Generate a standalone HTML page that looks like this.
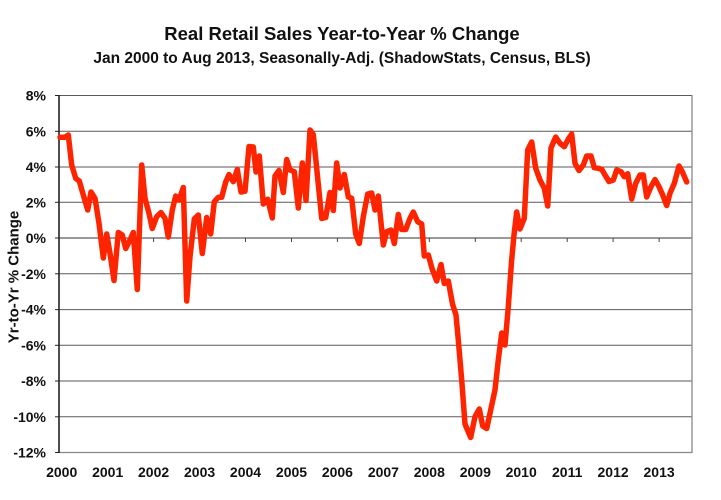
<!DOCTYPE html>
<html>
<head>
<meta charset="utf-8">
<style>
  html, body { margin: 0; padding: 0; background: #fff; }
  svg { display: block; }
  text { font-family: "Liberation Sans", Arial, sans-serif; font-weight: bold; fill: #111; }
</style>
</head>
<body>
<svg width="721" height="500" viewBox="0 0 721 500" xmlns="http://www.w3.org/2000/svg">
  <rect x="0" y="0" width="721" height="500" fill="#fff"/>

  <!-- Titles -->
  <text x="342" y="40" font-size="18.5" text-anchor="middle">Real Retail Sales Year-to-Year % Change</text>
  <text x="342" y="63" font-size="15.5" text-anchor="middle">Jan 2000 to Aug 2013, Seasonally-Adj. (ShadowStats, Census, BLS)</text>

  <!-- Gridlines -->
  <g stroke="#5a5a5a" stroke-width="1">
    <line x1="59" y1="95.5" x2="692" y2="95.5"/>
    <line x1="59" y1="131.3" x2="692" y2="131.3"/>
    <line x1="59" y1="167" x2="692" y2="167"/>
    <line x1="59" y1="202.3" x2="692" y2="202.3"/>
    <line x1="59" y1="238" x2="692" y2="238" stroke="#333"/>
    <line x1="59" y1="273.8" x2="692" y2="273.8"/>
    <line x1="59" y1="309.6" x2="692" y2="309.6"/>
    <line x1="59" y1="345.3" x2="692" y2="345.3"/>
    <line x1="59" y1="381" x2="692" y2="381"/>
    <line x1="59" y1="416.8" x2="692" y2="416.8"/>
  </g>
  <!-- plot border -->
  <line x1="59" y1="452.5" x2="692" y2="452.5" stroke="#888" stroke-width="1.3"/>
  <line x1="692" y1="95" x2="692" y2="453" stroke="#888" stroke-width="1.3"/>
  <line x1="59" y1="95" x2="59" y2="453" stroke="#222" stroke-width="1.6"/>

  <!-- y ticks -->
  <g stroke="#222" stroke-width="1">
    <line x1="55" y1="95.5" x2="59" y2="95.5"/>
    <line x1="55" y1="131.3" x2="59" y2="131.3"/>
    <line x1="55" y1="167" x2="59" y2="167"/>
    <line x1="55" y1="202.3" x2="59" y2="202.3"/>
    <line x1="55" y1="238" x2="59" y2="238"/>
    <line x1="55" y1="273.8" x2="59" y2="273.8"/>
    <line x1="55" y1="309.6" x2="59" y2="309.6"/>
    <line x1="55" y1="345.3" x2="59" y2="345.3"/>
    <line x1="55" y1="381" x2="59" y2="381"/>
    <line x1="55" y1="416.8" x2="59" y2="416.8"/>
    <line x1="55" y1="452.5" x2="59" y2="452.5"/>
  </g>
  <!-- x ticks on zero line -->
  <g stroke="#444" stroke-width="1">
    <line x1="107.7" y1="238" x2="107.7" y2="242"/>
    <line x1="153.6" y1="238" x2="153.6" y2="242"/>
    <line x1="199.6" y1="238" x2="199.6" y2="242"/>
    <line x1="245.5" y1="238" x2="245.5" y2="242"/>
    <line x1="291.5" y1="238" x2="291.5" y2="242"/>
    <line x1="337.4" y1="238" x2="337.4" y2="242"/>
    <line x1="383.4" y1="238" x2="383.4" y2="242"/>
    <line x1="429.3" y1="238" x2="429.3" y2="242"/>
    <line x1="475.3" y1="238" x2="475.3" y2="242"/>
    <line x1="521.2" y1="238" x2="521.2" y2="242"/>
    <line x1="567.2" y1="238" x2="567.2" y2="242"/>
    <line x1="613.1" y1="238" x2="613.1" y2="242"/>
    <line x1="659.1" y1="238" x2="659.1" y2="242"/>
  </g>

  <!-- y tick labels -->
  <g font-size="14" text-anchor="end">
    <text x="46" y="100.5">8%</text>
    <text x="46" y="136.3">6%</text>
    <text x="46" y="172">4%</text>
    <text x="46" y="207.3">2%</text>
    <text x="46" y="243">0%</text>
    <text x="46" y="278.8">-2%</text>
    <text x="46" y="314.6">-4%</text>
    <text x="46" y="350.3">-6%</text>
    <text x="46" y="386">-8%</text>
    <text x="46" y="421.8">-10%</text>
    <text x="46" y="457.5">-12%</text>
  </g>

  <!-- x labels -->
  <g font-size="14" text-anchor="middle">
    <text x="61.7" y="477">2000</text>
    <text x="107.7" y="477">2001</text>
    <text x="153.6" y="477">2002</text>
    <text x="199.6" y="477">2003</text>
    <text x="245.5" y="477">2004</text>
    <text x="291.5" y="477">2005</text>
    <text x="337.4" y="477">2006</text>
    <text x="383.4" y="477">2007</text>
    <text x="429.3" y="477">2008</text>
    <text x="475.3" y="477">2009</text>
    <text x="521.2" y="477">2010</text>
    <text x="567.2" y="477">2011</text>
    <text x="613.1" y="477">2012</text>
    <text x="659.1" y="477">2013</text>
  </g>

  <!-- y axis title -->
  <text transform="translate(18.5,277) rotate(-90)" font-size="15" text-anchor="middle">Yr-to-Yr % Change</text>

  <!-- series -->
  <polyline fill="none" stroke="#FF2400" stroke-width="5.5" stroke-linejoin="round" stroke-linecap="round"
    points="60,137.3 65,137.3 68.3,135 71.7,165 75.7,178.3 79.3,181 83.3,195 87.7,210 91,192 95,198.3 99,223.3 103.3,258 106.7,234 110,253.3 114,280.5 118.3,232.5 122.3,235 125.7,248.5 130,240 133.3,232.5 137.3,289.5 141.7,165 145,198.3 149,213.3 152.3,228.5 156.7,216.7 161,212.5 165,218.3 168.3,237 172.3,210 175.7,196 179,200 183.3,187.5 186.7,301 190,256.7 194.3,219 198.3,215 202.3,253.5 206.7,217.5 210.7,234 214.3,201.7 218.3,197.3 221.7,197.3 225.7,182 229,174.5 233.3,181.7 237.3,169.5 241,192 245,191.2 249,146.5 253.3,147 256,172 259.3,156 263.3,204 267.7,199.3 272.3,218 275,176 279,170.5 283.3,192.5 286.7,159.5 290,170 294.3,171.7 298.3,208 302.3,163 306,200.5 310,130 313.3,134.5 316.7,168.3 321.7,218.5 325.7,217.5 330,192.5 333.3,210.5 336.7,163 340,188 344.3,174.5 348.3,197 351.7,198.3 355.7,234 359.3,243.5 363.3,216.7 367.7,194 371.7,193 375,210 378.3,196 383.3,245 386.7,231.7 391,230 394.3,243.5 398.3,214.5 401.7,229.5 405.7,229.5 410,218.3 413.3,212 417.7,221.7 421.7,224 424.3,256 428.3,255 432.3,269.5 436.7,281 441,264.5 444.3,283.5 448.3,281 452.5,304 456,315 458.3,340 461.7,380 465,424 470.7,437.5 475,416.7 479.3,409 482.7,426 486.7,428.5 490.7,410 495,390 498.3,360 501.7,333 505,345 508.3,306.7 511.5,262 514,235 516.7,212 520,229 524.3,218.3 527.7,150 531.7,142 535.7,168.3 540,180 544.3,188.3 547.7,206 551,148 555.7,137 560,143.3 564.3,146.7 568.3,139 571.7,134 575,163.3 579,170.5 583.3,165 586.7,156 591,156 594.3,167.7 598.3,168.3 601.7,169.3 605,175 609,181.5 613.3,180 616.7,170 621,171.7 624.3,176.7 627.7,173.8 631.7,199 635.7,183.3 640,175 643.3,175 646.7,197 651,186.7 655,179.5 659,186.7 662.7,195 666.7,205.5 670,193.3 674.3,183.3 679,166 682.3,171.7 686.7,182"/>
</svg>
</body>
</html>
